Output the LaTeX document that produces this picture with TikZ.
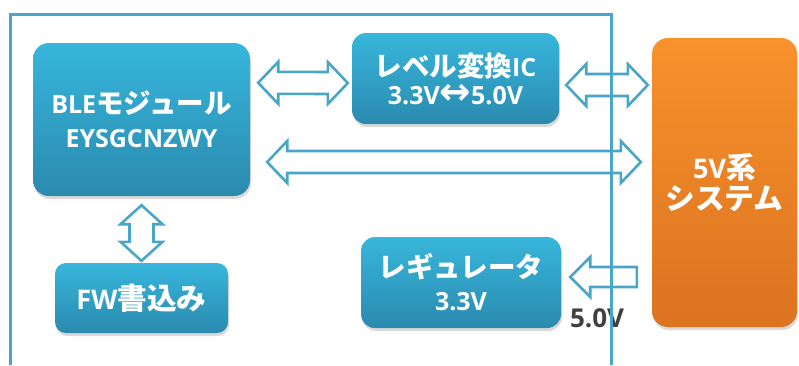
\documentclass[tikz,border=0pt]{standalone}
\usepackage{fontspec}
\setmainfont{Open Sans}
\newfontfamily\jp{Noto Sans CJK JP}[Scale=1.1]
\newfontfamily\sym{DejaVu Sans}
\usetikzlibrary{calc,shadows}

\definecolor{boxTop}{HTML}{38B6DC}
\definecolor{boxBot}{HTML}{2A8AAE}
\definecolor{sysTop}{HTML}{F7922C}
\definecolor{sysBot}{HTML}{DB7320}
\definecolor{lineTeal}{HTML}{4AA6C6}
\definecolor{labelGray}{HTML}{404040}

% horizontal double block arrow, tips at #1 and #2
\newcommand{\dblarrowh}[2]{%
	\draw[blockarrow] let \p1=(#1), \p2=(#2) in
		(\x1,\y1) -- (\x1+20pt,\y1+21pt) -- (\x1+20pt,\y1+11pt) -- (\x2-20pt,\y2+11pt)
		-- (\x2-20pt,\y2+21pt) -- (\x2,\y2) -- (\x2-20pt,\y2-21pt) -- (\x2-20pt,\y2-11pt)
		-- (\x1+20pt,\y1-11pt) -- (\x1+20pt,\y1-21pt) -- cycle;}
% vertical double block arrow, top tip #1, bottom tip #2
\newcommand{\dblarrowv}[2]{%
	\draw[blockarrow] let \p1=(#1), \p2=(#2) in
		(\x1,\y1) -- (\x1+21pt,\y1-19pt) -- (\x1+12pt,\y1-19pt) -- (\x2+12pt,\y2+19pt)
		-- (\x2+21pt,\y2+19pt) -- (\x2,\y2) -- (\x2-21pt,\y2+19pt) -- (\x2-12pt,\y2+19pt)
		-- (\x1-12pt,\y1-19pt) -- (\x1-21pt,\y1-19pt) -- cycle;}
% single block arrow, tip #1 (left), tail #2 (right)
\newcommand{\sglarrowh}[2]{%
	\draw[blockarrow] let \p1=(#1), \p2=(#2) in
		(\x1,\y1) -- (\x1+20pt,\y1+20pt) -- (\x1+20pt,\y1+10pt) -- (\x2,\y2+10pt)
		-- (\x2,\y2-10pt) -- (\x1+20pt,\y1-10pt) -- (\x1+20pt,\y1-20pt) -- cycle;}

\begin{document}
\begin{tikzpicture}[x=1pt, y=-1pt,
		bluebox/.style={rounded corners=14pt, top color=boxTop, bottom color=boxBot, text=white,
			font=\bfseries, align=center, inner sep=0pt,
			drop shadow={opacity=0.3, shadow xshift=1pt, shadow yshift=-3pt}},
		sysbox/.style={bluebox, top color=sysTop, bottom color=sysBot},
		blockarrow/.style={draw=lineTeal, fill=white, line width=2.6pt, line join=miter},
		frame/.style={draw=lineTeal, line width=3pt}]

	\useasboundingbox (0,0) rectangle (799,365);

	\node[bluebox, minimum width=217pt, minimum height=153pt, rounded corners=16pt,
		font=\bfseries\fontsize{25}{34}\selectfont] (ble) at (141.5,119.5) {BLE{\jp モジュール}\\EYSGCNZWY};
	\node[bluebox, minimum width=207pt, minimum height=91pt,
		font=\bfseries\fontsize{25}{28}\selectfont] (lvl) at (455.5,78.5)
		{{\jp レベル変換}IC\\3.3V{\sym\scalebox{1.5}{↔}}5.0V};
	\node[bluebox, minimum width=173pt, minimum height=70pt, rounded corners=11pt,
		font=\bfseries\fontsize{27}{30}\selectfont] (fw) at (141.5,298) {FW{\jp 書込み}};
	\node[bluebox, minimum width=200pt, minimum height=91pt,
		font=\bfseries\fontsize{25}{33}\selectfont] (reg) at (461,282.5) {{\jp レギュレータ}\\3.3V};
	\node[sysbox, minimum width=145pt, minimum height=289pt, rounded corners=16pt,
		font=\bfseries\fontsize{27}{31}\selectfont] (sys) at (724.5,182.5) {5V{\jp 系}\\{\jp システム}};

	\coordinate (bleR) at ($(ble.north east)+(8,40)$);
	\coordinate (lvlL) at ($(lvl.west)+(-4,4.5)$);
	\coordinate (lvlR) at ($(lvl.east)+(7,6.5)$);
	\coordinate (sysA) at ($(sys.west |- lvlR)+(-4,0)$);
	\coordinate (bleB) at ($(ble.east)+(17,42.5)$);
	\coordinate (sysB) at ($(sys.west |- bleB)+(-11,0)$);
	\coordinate (bleD) at ($(ble.south)+(0,9)$);
	\coordinate (fwU) at ($(fw.north)+(0,-2)$);
	\coordinate (regR) at ($(reg.east)+(9,-5.5)$);
	\coordinate (sysC) at ($(sys.west |- regR)+(-15,0)$);

	\dblarrowh{bleR}{lvlL}
	\dblarrowh{lvlR}{sysA}
	\dblarrowh{bleB}{sysB}
	\dblarrowv{bleD}{fwU}
	\sglarrowh{regR}{sysC}

	\node[text=labelGray, font=\bfseries\fontsize{26}{28}\selectfont] (volt) at (597,318) {5.0V};

	\draw[frame] (10,365) |- (611,14) -- (611,365);
\end{tikzpicture}
\end{document}
